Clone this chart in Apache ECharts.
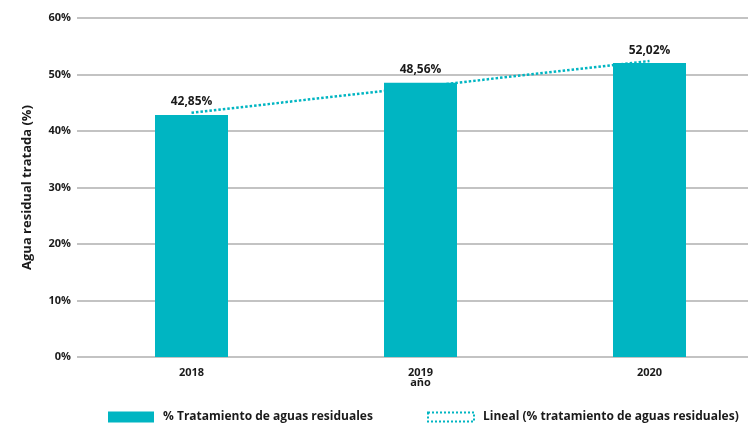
<!DOCTYPE html>
<html><head><meta charset="utf-8">
<script src="https://cdn.jsdelivr.net/npm/echarts@6/dist/echarts.min.js"></script>
<style>html,body{margin:0;padding:0;background:#fff}#c{width:748px;height:424px}</style>
</head><body><div id="c"></div>
<script>
var categories = ['2018', '2019', '2020'];
var treatmentValues = [42.85, 48.56, 52.02];
var trendValues = [43.23, 47.81, 52.40];
var yTicks = [0, 10, 20, 30, 40, 50, 60];
var barName = '% Tratamiento de aguas residuales';
var trendName = 'Lineal (% tratamiento de aguas residuales)';

var teal = '#00B5C2';
var font = 'Open Sans';
var chart = echarts.init(document.getElementById('c'), null, {renderer: 'canvas'});
chart.setOption({
  animation: false,
  textStyle: {fontFamily: font},
  grid: {left: 77, width: 687, top: 18, bottom: 67, containLabel: false, outerBoundsMode: 'none'},
  legend: [{
    left: 103, top: 406, itemWidth: 46, itemHeight: 11, itemGap: 10,
    textStyle: {fontFamily: font, fontWeight: 'bold', fontSize: 12, color: '#1a1a1a', padding: [0,0,0,4]},
    data: [{name: barName, icon: 'rect'}]
  }, {
    left: 422, top: 406, itemWidth: 46, itemHeight: 9, itemGap: 10,
    textStyle: {fontFamily: font, fontWeight: 'bold', fontSize: 12, color: '#1a1a1a', padding: [0,0,0,4]},
    data: [{name: trendName, icon: 'rect',
      itemStyle: {color: 'rgba(0,0,0,0)', borderColor: teal, borderWidth: 2, borderType: [2, 2]}}]
  }],
  xAxis: {
    type: 'category', data: categories,
    axisLine: {show: false}, axisTick: {show: false},
    axisLabel: {fontFamily: font, fontWeight: 'bold', fontSize: 11, color: '#1a1a1a', margin: 10},
    name: 'año', nameLocation: 'middle', nameGap: 20, nameMoveOverlap: false,
    nameTextStyle: {fontFamily: font, fontWeight: 'bold', fontSize: 11, color: '#1a1a1a'}
  },
  yAxis: {
    type: 'value', min: yTicks[0], max: yTicks[yTicks.length - 1], interval: 10,
    axisLine: {show: false}, axisTick: {show: false},
    axisLabel: {formatter: '{value}%', fontFamily: font, fontWeight: 'bold', fontSize: 11, color: '#1a1a1a', margin: 6},
    splitLine: {lineStyle: {color: '#c3c3c3', width: 2}},
    name: 'Agua residual tratada (%)', nameLocation: 'middle', nameGap: 43, nameRotate: 90, nameMoveOverlap: false,
    nameTextStyle: {fontFamily: font, fontWeight: 'bold', fontSize: 13, color: '#1a1a1a'}
  },
  series: [{
    name: barName, type: 'bar', data: treatmentValues, barWidth: 73,
    itemStyle: {color: teal},
    label: {show: true, position: 'top', distance: 7,
      formatter: function(p){ return p.value.toFixed(2).replace('.', ',') + '%'; },
      fontFamily: font, fontWeight: 'bold', fontSize: 12, color: '#1a1a1a'},
    z: 2
  }, {
    name: trendName, type: 'line', data: trendValues, symbol: 'none',
    lineStyle: {color: teal, width: 2.5, type: [2.5, 2]},
    itemStyle: {color: teal},
    z: 3
  }]
});
</script></body></html>
